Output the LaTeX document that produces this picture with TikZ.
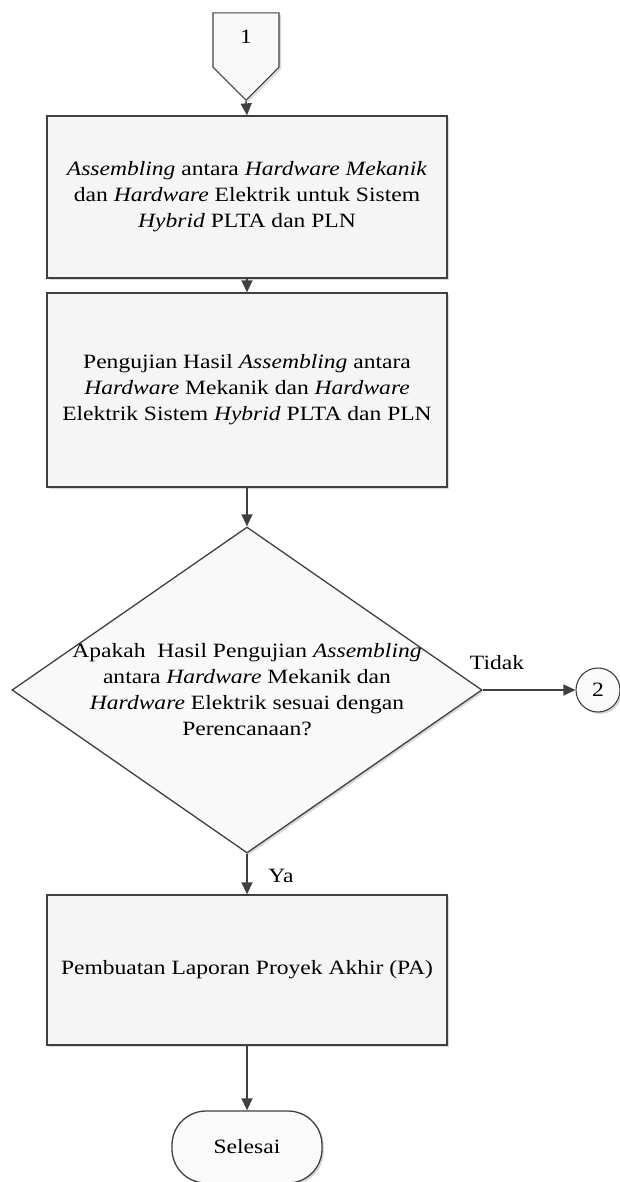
\documentclass[tikz,border=0pt]{standalone}
\usepackage{fontspec}
\setmainfont[FakeStretch=1.16]{Liberation Serif}
\usetikzlibrary{shapes.geometric,shapes.symbols,arrows.meta,shadows}
\begin{document}
\begin{tikzpicture}[x=1pt,y=-1pt,font=\fontsize{20.3}{26}\selectfont,
  shade/.style={drop shadow={shadow xshift=2pt,shadow yshift=-2pt,fill=black!30,opacity=.5}},
  proc/.style={draw=black!75,line width=1.3pt,fill=gray!8,minimum width=400pt,align=center,inner sep=0pt,shade},
  flow/.style={draw=black!75,line width=1.4pt,-{Triangle[length=12pt,width=11pt]}}]
\useasboundingbox (0,0) rectangle (619,1182);
% connector dari halaman sebelumnya
\node[shape=signal,signal to=south,signal from=nowhere,draw=black!75,line width=1.1pt,fill=gray!5,
  minimum width=66pt,minimum height=60pt,inner sep=0pt,shade] (off1) at (246,40) {\raisebox{7pt}{1}};
\node[proc,minimum height=162pt] (asm) at (247,197)
  {\textit{Assembling} antara \textit{Hardware Mekanik}\\ dan \textit{Hardware} Elektrik untuk Sistem\\ \textit{Hybrid} PLTA dan PLN};
\node[proc,minimum height=194pt] (uji) at (247,390)
  {Pengujian Hasil \textit{Assembling} antara\\ \textit{Hardware} Mekanik dan \textit{Hardware}\\ Elektrik Sistem \textit{Hybrid} PLTA dan PLN};
\node[diamond,aspect=1.44,draw=black!75,line width=1.3pt,fill=gray!5,inner sep=-6pt,
  minimum width=470pt,minimum height=326pt,align=center,shade] (cek) at (247,690)
  {Apakah\ \ Hasil Pengujian \textit{Assembling}\\ antara \textit{Hardware} Mekanik dan\\ \textit{Hardware} Elektrik sesuai dengan\\ Perencanaan?};
\node[circle,draw=black!75,line width=1.1pt,fill=gray!4,minimum size=44pt,inner sep=0pt,shade] (off2) at (598,690) {2};
\node[proc,minimum height=150pt] (lap) at (247,970) {Pembuatan Laporan Proyek Akhir (PA)};
\node[draw=black!75,line width=1.3pt,fill=gray!4,rounded corners=34pt,minimum width=150pt,
  minimum height=72pt,shade] (end) at (247,1147) {Selesai};
% alur
\draw[flow] (off1.south) -- (asm.north);
\draw[flow] (asm.south) -- (uji.north);
\draw[flow] (uji.south) -- (cek.north);
\draw[flow] (cek.east) -- (off2.west);
\draw[flow] (cek.south) -- (lap.north);
\draw[flow] (lap.south) -- (end.north);
\node (tidak) at (497,663) {Tidak};
\node (ya) at (281,876) {Ya};
\end{tikzpicture}
\end{document}
